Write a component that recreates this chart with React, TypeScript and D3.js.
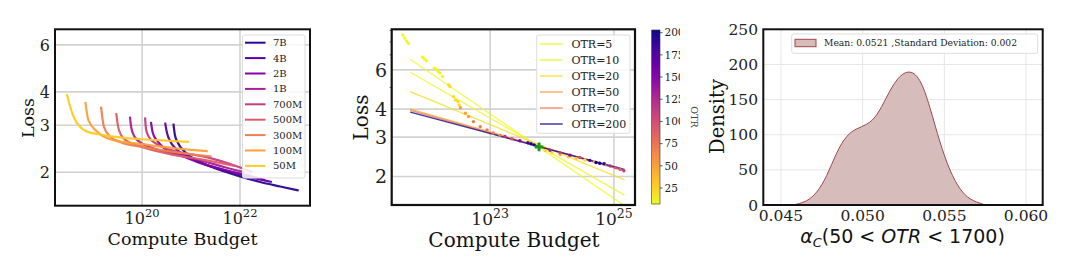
import React from "react";
import * as d3 from "d3";

const SERIF = "'DejaVu Serif', serif";
const SANS = "'DejaVu Sans', sans-serif";

// ---------- left panel: loss curves per model size ([log10 compute, loss]) ----------
const modelNames = ["7B", "4B", "2B", "1B", "700M", "500M", "300M", "100M", "50M"];
const run7B: [number, number][] = [
  [20.64, 3.04], [20.67, 2.76], [20.73, 2.58], [20.88, 2.38], [21.18, 2.19],
  [21.59, 2.04], [22.0, 1.93], [22.41, 1.84], [22.82, 1.77], [23.2, 1.71],
];
const run4B: [number, number][] = [
  [20.47, 3.07], [20.51, 2.8], [20.57, 2.62], [20.71, 2.43], [20.98, 2.26],
  [21.39, 2.11], [21.8, 2.01], [22.2, 1.92], [22.65, 1.84],
];
const run2B: [number, number][] = [
  [20.18, 3.09], [20.22, 2.8], [20.31, 2.62], [20.47, 2.45], [20.78, 2.32],
  [21.18, 2.17], [21.69, 2.04], [22.2, 1.94], [22.51, 1.87],
];
const run1B: [number, number][] = [
  [19.75, 3.23], [19.78, 2.93], [19.84, 2.73], [19.96, 2.59], [20.16, 2.49],
  [20.57, 2.36], [21.18, 2.22], [21.69, 2.09], [22.1, 2.0],
];
const run700M: [number, number][] = [
  [20.06, 3.21], [20.08, 2.9], [20.14, 2.71], [20.27, 2.57], [20.47, 2.46],
  [20.88, 2.36], [21.39, 2.26], [21.8, 2.15], [22.26, 2.0],
];
const run500M: [number, number][] = [
  [19.47, 3.33], [19.51, 2.96], [19.57, 2.76], [19.69, 2.62], [20.0, 2.49],
  [20.57, 2.34], [21.18, 2.24], [21.92, 2.11],
];
const run300M: [number, number][] = [
  [19.16, 3.52], [19.22, 2.96], [19.35, 2.72], [19.55, 2.6], [20.0, 2.49],
  [20.67, 2.38], [21.42, 2.29],
];
const run100M: [number, number][] = [
  [18.84, 3.67], [18.9, 3.14], [19.08, 2.84], [19.41, 2.64], [20.0, 2.55],
  [20.67, 2.46], [21.34, 2.4],
];
const run50M: [number, number][] = [
  [18.46, 3.93], [18.6, 3.23], [18.87, 2.84], [19.14, 2.77], [19.41, 2.72],
  [20.0, 2.66], [20.47, 2.63], [20.96, 2.6],
];
const modelRuns = [run7B, run4B, run2B, run1B, run700M, run500M, run300M, run100M, run50M];
const leftLossTicks = [2, 3, 4, 6];
const leftComputeTicks = [20, 22];

// ---------- middle panel: power-law fits per OTR ----------
const otrLevels = [5, 10, 20, 50, 70, 200];
const fitComputeRange = [21.71, 25.17];
const fitLossStart = [6.69, 5.85, 4.79, 4.0, 3.95, 3.88];
const fitLossEnd = [1.48, 1.65, 1.93, 2.13, 2.12, 2.15];
// [log10 compute, loss, OTR]
const runPoints: [number, number, number][] = [
  [21.59, 8.59, 5], [21.62, 8.33, 5], [21.65, 8.08, 5], [21.68, 7.89, 5],
  [21.91, 6.83, 5], [21.94, 6.71, 5], [21.97, 6.59, 5],
  [22.1, 6.1, 10], [22.13, 6.02, 10], [22.16, 5.9, 10], [22.19, 5.8, 10], [22.23, 5.6, 10],
  [22.33, 5.14, 20], [22.35, 5.05, 20], [22.41, 4.55, 20], [22.44, 4.4, 20], [22.48, 4.33, 20], [22.5, 4.18, 20],
  [22.52, 4.06, 50], [22.6, 3.84, 50], [22.65, 3.71, 50],
  [22.73, 3.52, 70], [22.84, 3.34, 70], [22.95, 3.23, 70], [23.05, 3.13, 70], [23.16, 3.06, 70],
  [23.24, 3.02, 120], [23.35, 2.95, 100], [23.48, 2.89, 150], [23.61, 2.83, 180],
  [23.66, 2.8, 200], [23.71, 2.77, 200],
  [23.89, 2.61, 25], [24.0, 2.55, 20], [24.13, 2.5, 30], [24.26, 2.45, 25],
  [24.39, 2.41, 30], [24.53, 2.37, 20], [24.69, 2.33, 35], [24.85, 2.28, 25],
  [23.97, 2.62, 130], [24.13, 2.55, 110], [24.29, 2.49, 150], [24.45, 2.43, 100],
  [24.61, 2.36, 180], [24.71, 2.31, 200], [24.77, 2.29, 200], [24.84, 2.28, 190],
  [24.94, 2.23, 120], [25.03, 2.19, 100], [25.1, 2.15, 90], [25.16, 2.12, 110],
];
const optimum: [number, number] = [23.79, 2.71];
const midLossTicks = [2, 3, 4, 6];
const midMinorTicks = [5, 7, 8, 9];
const midComputeTicks = [23, 25];
const colorbarTicks = [25, 50, 75, 100, 125, 150, 175, 200];

// ---------- right panel: KDE of alpha_C ----------
const alphaValues = [
  0.04592, 0.04657, 0.04719, 0.0478, 0.04841, 0.04902, 0.04963, 0.05025, 0.05086, 0.05147,
  0.05208, 0.05279, 0.05351, 0.05412, 0.05473, 0.05535, 0.05596, 0.05657, 0.05739,
];
const densityValues = [
  1, 4.7, 16.6, 40, 75.8, 99.6, 109, 113.8, 125.6, 154,
  180, 193, 182.5, 140, 87.8, 47.4, 21.3, 7.1, 1,
];
const densityTicks = [0, 50, 100, 150, 200, 250];
const alphaTicks = [0.045, 0.05, 0.055, 0.06];

const LeftPanel = () => {
  const x = d3.scaleLog().domain([10 ** 18.22, 10 ** 23.43]).range([55, 310]);
  const y = d3.scaleLog().domain([1.5, 6.86]).range([205.7, 29.3]);
  const color = (i: number) => d3.interpolatePlasma(0.05 + i * 0.105);
  const line = d3
    .line<[number, number]>()
    .x((d) => x(10 ** d[0]))
    .y((d) => y(d[1]))
    .curve(d3.curveMonotoneX);
  return (
    <g>
      {leftLossTicks.map((t) => (
        <g key={t}>
          <line x1={55} x2={310} y1={y(t)} y2={y(t)} stroke="#d2d2d2" strokeWidth={1.6} />
          <text x={50} y={y(t)} dy="0.36em" textAnchor="end" fontSize={16} fontFamily={SERIF} fill="#222">
            {t}
          </text>
        </g>
      ))}
      {leftComputeTicks.map((t) => (
        <g key={t}>
          <line x1={x(10 ** t)} x2={x(10 ** t)} y1={29.3} y2={205.7} stroke="#d2d2d2" strokeWidth={1.6} />
          <text x={x(10 ** t)} y={224} textAnchor="middle" fontSize={16} fontFamily={SERIF} fill="#222">
            10<tspan dy={-7} fontSize={11.5}>{t}</tspan>
          </text>
        </g>
      ))}
      <g>
        {modelRuns.map((r, i) => (
          <path key={i} d={line(r) ?? ""} fill="none" stroke={color(i)} strokeWidth={2.2} strokeOpacity={0.95} />
        ))}
      </g>
      <rect x={55} y={29.3} width={255} height={176.4} fill="none" stroke="#111" strokeWidth={2} />
      <rect x={242.5} y={35} width={62.5} height={143} rx={2} fill="white" fillOpacity={0.85} stroke="#ddd" />
      {modelNames.map((n, i) => (
        <g key={n} transform={`translate(0,${42.7 + i * 15.4})`}>
          <line x1={245} x2={265.5} stroke={color(i)} strokeWidth={2} />
          <text x={273} dy="0.35em" fontSize={10} fontFamily={SERIF} fill="#222">
            {n}
          </text>
        </g>
      ))}
      <text transform="translate(28,118) rotate(-90)" textAnchor="middle" dy="0.35em" fontSize={17.5} fontFamily={SERIF} fill="#111">
        Loss
      </text>
      <text x={182.5} y={245} textAnchor="middle" fontSize={17.5} fontFamily={SERIF} fill="#111">
        Compute Budget
      </text>
    </g>
  );
};

const MiddlePanel = () => {
  const x = d3.scaleLog().domain([10 ** 21.41, 10 ** 25.34]).range([391.7, 635]);
  const y = d3.scaleLog().domain([1.49, 9.11]).range([205, 29.3]);
  const otrColor = (v: number) => d3.interpolatePlasma(1 - (v - 7) / 196);
  const cbY = d3.scaleLinear().domain([7, 203]).range([204, 30]);
  const stops = d3.range(0, 1.001, 0.1);
  return (
    <g clipPath="url(#midClip)">
      <defs>
        <clipPath id="plotClip">
          <rect x={391.7} y={29.3} width={243.3} height={175.7} />
        </clipPath>
        <linearGradient id="cbGrad" x1="0" y1="1" x2="0" y2="0">
          {stops.map((s) => (
            <stop key={s} offset={s} stopColor={d3.interpolatePlasma(1 - s)} />
          ))}
        </linearGradient>
      </defs>
      {midLossTicks.map((t) => (
        <g key={t}>
          <line x1={391.7} x2={635} y1={y(t)} y2={y(t)} stroke="#d2d2d2" strokeWidth={1.6} />
          <text x={387} y={y(t)} dy="0.36em" textAnchor="end" fontSize={19} fontFamily={SERIF} fill="#222">
            {t}
          </text>
        </g>
      ))}
      {midMinorTicks.map((t) => (
        <line key={t} x1={389.7} x2={391.7} y1={y(t)} y2={y(t)} stroke="#333" strokeWidth={0.8} />
      ))}
      {midComputeTicks.map((t) => (
        <g key={t}>
          <line x1={x(10 ** t)} x2={x(10 ** t)} y1={29.3} y2={205} stroke="#d2d2d2" strokeWidth={1.6} />
          <text x={x(10 ** t)} y={225} textAnchor="middle" fontSize={17} fontFamily={SERIF} fill="#222">
            10<tspan dy={-7.5} fontSize={12.5}>{t}</tspan>
          </text>
        </g>
      ))}
      <g clipPath="url(#plotClip)">
        {otrLevels.map((o, i) => (
          <line
            key={o}
            x1={x(10 ** fitComputeRange[0])}
            x2={x(10 ** fitComputeRange[1])}
            y1={y(fitLossStart[i])}
            y2={y(fitLossEnd[i])}
            stroke={otrColor(o)}
            strokeWidth={o === 200 ? 1.5 : 1.3}
            strokeOpacity={0.8}
          />
        ))}
        {runPoints.map((p, i) => (
          <circle key={i} cx={x(10 ** p[0])} cy={y(p[1])} r={1.7} fill={otrColor(p[2])} />
        ))}
        <path
          transform={`translate(${x(10 ** optimum[0])},${y(optimum[1])})`}
          d={d3.symbol(d3.symbolCross, 42)() ?? ""}
          fill="#1a9a1a"
        />
      </g>
      <rect x={391.7} y={29.3} width={243.3} height={175.7} fill="none" stroke="#111" strokeWidth={2.2} />
      <rect x={536.7} y={35} width={93.3} height={98.3} rx={2} fill="white" fillOpacity={0.85} stroke="#ddd" />
      {otrLevels.map((o, i) => (
        <g key={o} transform={`translate(0,${44 + i * 16})`}>
          <line x1={540} x2={562.7} stroke={otrColor(o)} strokeWidth={1.5} strokeOpacity={0.8} />
          <text x={571.5} dy="0.35em" fontSize={11} fontFamily={SERIF} fill="#222">
            OTR={o}
          </text>
        </g>
      ))}
      <rect x={651.7} y={30} width={8.3} height={174} fill="url(#cbGrad)" stroke="#333" strokeWidth={0.6} />
      {colorbarTicks.map((t) => (
        <g key={t}>
          <line x1={660} x2={662.5} y1={cbY(t)} y2={cbY(t)} stroke="#333" strokeWidth={0.8} />
          <text x={664.5} y={cbY(t)} dy="0.35em" fontSize={10.5} fontFamily={SERIF} fill="#222">
            {t}
          </text>
        </g>
      ))}
      <text transform="translate(360.7,117.5) rotate(-90)" textAnchor="middle" dy="0.35em" fontSize={20} fontFamily={SERIF} fill="#111">
        Loss
      </text>
      <text x={514} y={247} textAnchor="middle" fontSize={20} fontFamily={SERIF} fill="#111">
        Compute Budget
      </text>
    </g>
  );
};

const RightPanel = () => {
  const x = d3.scaleLinear().domain([0.04392, 0.06102]).range([763.3, 1042.7]);
  const y = d3.scaleLinear().domain([0, 250]).range([205, 29.3]);
  const pts = alphaValues.map((a, i) => [a, densityValues[i]] as [number, number]);
  const area = d3
    .area<[number, number]>()
    .x((d) => x(d[0]))
    .y0(y(0))
    .y1((d) => y(d[1]))
    .curve(d3.curveBasis);
  const top = d3
    .line<[number, number]>()
    .x((d) => x(d[0]))
    .y((d) => y(d[1]))
    .curve(d3.curveBasis);
  return (
    <g>
      {densityTicks.map((t) => (
        <g key={t}>
          <line x1={763.3} x2={1042.7} y1={y(t)} y2={y(t)} stroke="#e6e6e6" strokeWidth={1} />
          <text x={758} y={y(t)} dy="0.36em" textAnchor="end" fontSize={15.5} fontFamily={SERIF} fill="#222">
            {t}
          </text>
        </g>
      ))}
      {alphaTicks.map((t) => (
        <g key={t}>
          <line x1={x(t)} x2={x(t)} y1={29.3} y2={205} stroke="#e6e6e6" strokeWidth={1} />
          <text x={x(t)} y={221} textAnchor="middle" fontSize={15.5} fontFamily={SERIF} fill="#222">
            {d3.format(".3f")(t)}
          </text>
        </g>
      ))}
      <path d={area(pts) ?? ""} fill="#d7bcbc" />
      <path d={top(pts) ?? ""} fill="none" stroke="#a04848" strokeWidth={1} />
      <rect x={763.3} y={29.3} width={279.4} height={175.7} fill="none" stroke="#111" strokeWidth={2} />
      <rect x={791.7} y={34} width={246} height={19.3} rx={2} fill="white" fillOpacity={0.85} stroke="#ddd" />
      <rect x={795} y={39.3} width={21} height={7.4} fill="#d7bcbc" stroke="#a04848" strokeWidth={1} />
      <text x={824} y={43} dy="0.35em" fontSize={9.2} fontFamily={SERIF} fill="#222">
        Mean: 0.0521 ,Standard Deviation: 0.002
      </text>
      <text transform="translate(716.7,116.5) rotate(-90)" textAnchor="middle" dy="0.35em" fontSize={19.5} fontFamily={SERIF} fill="#111">
        Density
      </text>
      <text x={902.5} y={242.7} textAnchor="middle" fontSize={19} fontFamily={SANS} fill="#111">
        <tspan fontStyle="italic">α</tspan>
        <tspan fontStyle="italic" fontSize={13} dy={4}>C</tspan>
        <tspan dy={-4}>(50 &lt; </tspan>
        <tspan fontStyle="italic">OTR</tspan>
        <tspan> &lt; 1700)</tspan>
      </text>
      <text transform="translate(694,117) rotate(90)" textAnchor="middle" dy="0.35em" fontSize={9.5} fontFamily={SERIF} fill="#444">
        OTR
      </text>
    </g>
  );
};

const App = () => {
  return (
    <svg
      width={1080}
      height={260}
      viewBox="0 0 1080 260"
      style={{ position: "absolute", left: 0, top: 0, background: "white" }}
    >
      <defs>
        <clipPath id="midClip">
          <rect x={330} y={0} width={350} height={260} />
        </clipPath>
      </defs>
      <rect width={1080} height={260} fill="white" />
      <LeftPanel />
      <MiddlePanel />
      <RightPanel />
    </svg>
  );
};

export default App;
